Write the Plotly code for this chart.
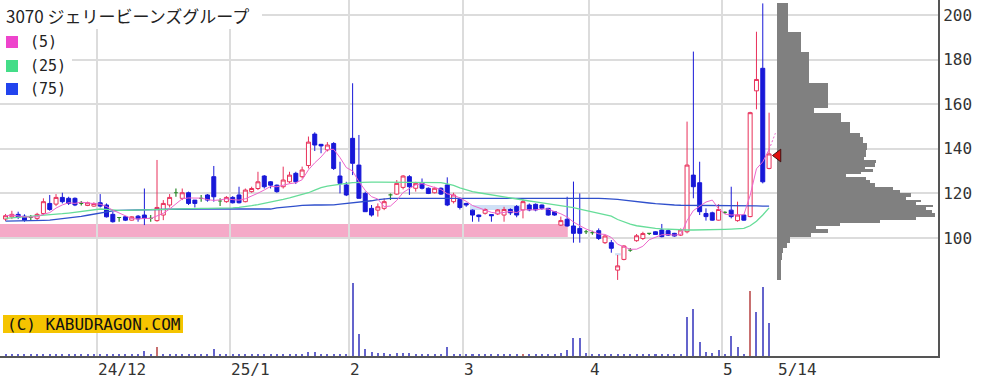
import plotly.graph_objects as go
import pandas as pd

# ---------------- data ----------------
# trading-day index, 0 = 2024-12-02 (first session of December)
day_index = list(range(-15, 107))

opens = [108.5, 109.5, 110.6, 109.8, 109.2, 108.8, 111.0, 115.5, 115.2, 118.2, 117.8, 117.8, 115.5, 114.6, 114.3,
         115.8, 114.8, 110.6, 109.2, 109.5, 108.0, 109.8, 110.3, 108.8, 107.8, 110.3, 114.8, 120.3, 117.8, 120.3,
         117.0, 117.8, 119.3, 127.5, 116.6, 116.3, 118.2, 119.3, 116.3, 120.8, 122.2, 127.8, 125.2, 123.7, 123.0,
         125.2, 129.0, 127.5, 132.5, 146.6, 142.0, 139.5, 142.4, 127.8, 123.8, 144.7, 132.7, 120.0, 113.3, 112.5,
         113.3, 119.3, 119.7, 122.7, 127.5, 122.3, 124.8, 122.3, 120.3, 122.3, 123.8, 116.3, 117.3, 115.5, 112.5,
         110.3, 111.1, 110.5, 110.8, 110.3, 112.8, 114.1, 112.6, 114.8, 115.1, 114.8, 113.3, 111.8, 105.8, 108.4,
         105.4, 104.3, 102.8, 102.4, 103.3, 97.9, 97.9, 85.6, 90.4, 94.6, 98.8, 99.8, 102.1, 102.8, 103.6,
         103.3, 102.1, 101.3, 102.8, 128.2, 124.8, 111.0, 111.3, 108.0, 111.5, 112.5, 107.8, 110.3, 109.6, 166.0,
         176.1, 131.2]
highs = [110.8, 112.2, 111.8, 110.6, 110.3, 111.3, 117.8, 119.3, 119.7, 120.3, 118.5, 118.2, 116.6, 116.3, 116.0,
         119.7, 115.5, 111.8, 109.4, 109.8, 109.8, 110.3, 122.2, 110.3, 135.0, 117.0, 119.7, 122.2, 122.2, 120.8,
         117.0, 119.3, 119.7, 132.3, 117.8, 118.8, 118.8, 123.0, 122.2, 123.0, 129.7, 128.2, 125.5, 124.0, 132.0,
         129.7, 129.7, 132.0, 145.5, 147.4, 142.2, 143.0, 143.0, 134.2, 125.2, 169.4, 146.2, 120.8, 114.8, 115.5,
         117.8, 120.0, 126.0, 128.2, 128.2, 125.2, 126.7, 122.7, 123.0, 122.7, 127.2, 120.3, 118.2, 115.8, 112.8,
         110.5, 113.3, 110.7, 113.0, 114.0, 113.3, 114.8, 117.3, 115.5, 115.5, 115.0, 113.5, 112.0, 109.6, 118.5,
         125.3, 120.0, 103.6, 103.3, 104.3, 101.3, 99.1, 92.4, 96.8, 95.5, 101.8, 102.8, 102.3, 103.0, 106.3,
         103.8, 102.3, 104.3, 152.2, 183.6, 134.2, 113.3, 111.8, 115.2, 112.0, 123.0, 116.3, 110.6, 156.6, 192.5,
         205.2, 156.2]
lows = [107.6, 108.5, 108.5, 107.3, 108.0, 108.0, 110.3, 112.2, 114.3, 115.5, 114.8, 114.3, 114.6, 114.3, 114.0,
        113.7, 109.2, 106.9, 107.3, 107.6, 107.8, 107.3, 105.8, 107.3, 107.3, 108.0, 113.7, 118.5, 117.0, 114.8,
        113.7, 116.3, 116.3, 116.3, 114.3, 115.8, 115.5, 115.5, 116.0, 120.3, 121.5, 122.2, 122.2, 120.3, 122.2,
        124.5, 124.2, 126.7, 131.2, 139.0, 138.0, 138.8, 130.5, 120.0, 118.8, 128.2, 117.8, 111.8, 109.6, 109.6,
        112.5, 117.0, 119.3, 121.8, 119.3, 120.8, 121.8, 119.7, 120.0, 119.3, 114.3, 115.5, 112.8, 114.0, 107.3,
        107.3, 110.5, 107.3, 110.3, 107.3, 110.3, 109.3, 108.8, 112.0, 112.0, 112.6, 110.0, 110.0, 105.4, 105.1,
        97.9, 97.9, 101.8, 101.5, 99.1, 97.3, 93.4, 81.2, 90.0, 93.8, 98.3, 99.1, 101.3, 101.5, 100.3,
        100.9, 100.6, 100.9, 102.1, 117.8, 110.3, 107.8, 107.8, 107.8, 110.8, 108.8, 107.3, 107.8, 109.3, 157.7,
        124.5, 130.8]
closes = [110.0, 110.6, 109.2, 108.0, 109.2, 110.6, 116.3, 112.8, 118.2, 116.3, 115.5, 114.8, 115.5, 115.8, 115.5,
          114.3, 109.5, 107.3, 109.2, 108.0, 109.5, 108.6, 108.8, 108.8, 113.7, 115.5, 118.2, 120.3, 120.3, 115.5,
          115.5, 117.8, 117.0, 118.5, 116.6, 118.2, 115.8, 115.8, 121.5, 122.2, 125.2, 123.0, 123.7, 120.8, 126.0,
          128.2, 125.2, 130.5, 143.0, 141.7, 141.3, 141.7, 131.2, 124.5, 119.3, 133.5, 117.8, 111.8, 110.3, 114.0,
          116.3, 119.3, 124.5, 127.8, 123.0, 124.5, 122.3, 120.0, 122.3, 119.7, 114.8, 119.3, 113.7, 114.8, 110.3,
          109.6, 112.8, 110.0, 112.6, 112.8, 111.3, 110.3, 116.3, 112.6, 112.6, 113.3, 110.3, 110.3, 107.8, 105.4,
          102.1, 102.1, 102.8, 102.4, 99.8, 100.9, 95.4, 87.5, 96.4, 94.6, 101.0, 102.0, 102.1, 101.6, 100.6,
          101.3, 100.9, 103.6, 132.7, 123.0, 111.8, 109.6, 108.0, 112.8, 111.5, 109.6, 110.3, 108.0, 156.2, 171.1,
          125.2, 137.7]
volumes = [12, 12, 12, 12, 12, 12, 12, 12, 12, 12, 12, 12, 12, 12, 12,
           12, 12, 12, 12, 12, 12, 12, 50, 12, 90, 20, 12, 12, 12, 12,
           12, 12, 12, 70, 12, 12, 12, 12, 12, 12, 12, 12, 12, 12, 20,
           12, 12, 12, 45, 45, 12, 12, 12, 20, 12, 727, 220, 70, 40, 30,
           30, 12, 30, 30, 30, 12, 12, 12, 12, 12, 90, 12, 12, 12, 12,
           12, 12, 12, 12, 12, 12, 12, 15, 12, 12, 12, 12, 12, 30, 60,
           183, 183, 30, 12, 25, 25, 12, 25, 12, 12, 12, 12, 12, 12, 12,
           12, 12, 12, 387, 467, 137, 43, 30, 60, 12, 200, 87, 12, 653, 437,
           687, 327]
vol_red_days = [9, 67, 103]

ma25 = [108.8, 109.0, 109.2, 109.4, 109.6, 109.8, 110.0,
        110.3, 110.6, 110.9, 111.2, 111.5, 111.8, 112.2, 112.7,
        113.0, 112.8, 112.5, 112.4, 112.4, 112.5, 112.6, 112.7, 112.8, 112.9, 113.0,
        113.1, 113.2, 113.3, 113.3, 113.3, 113.3, 113.3, 113.3, 113.3, 113.4, 113.5,
        113.7, 114.0, 114.5, 115.0, 115.5, 116.0, 116.6, 117.3, 118.0, 118.7,
        119.3, 120.3, 121.5, 122.6, 123.3, 123.8,
        124.1, 124.5, 124.8, 125.0, 125.1, 125.1, 125.1, 125.1, 125.1,
        125.1, 125.1, 125.1, 125.0, 125.0, 125.0, 125.0, 124.8, 124.3, 123.6,
        122.5, 121.5, 120.8, 120.3, 119.8, 119.3, 118.8, 118.4, 118.0, 117.6, 117.1, 116.6, 116.2, 115.8, 115.4, 115.0,
        114.7, 114.1, 113.6, 113.0, 112.4, 111.8, 111.2, 110.5, 109.8,
        108.3, 107.2, 106.2, 105.5, 105.0, 104.6, 104.3, 104.1, 103.9,
        103.8, 103.7, 103.6, 103.6, 103.6, 103.6, 103.7, 103.8, 103.9, 104.0, 104.1, 104.3, 105.5, 107.5, 110.3, 113.5]
ma75 = [107.6, 107.6, 107.7, 107.7, 107.8, 107.8, 107.9,
        108.0, 108.3, 108.6, 108.9, 109.3, 109.7, 110.2, 110.7,
        111.2, 111.8, 112.2, 112.4, 112.5, 112.5, 112.6, 112.6, 112.7, 112.7, 112.8,
        112.9, 112.9, 113.0, 113.0, 113.0, 113.0, 113.0, 113.0, 113.0, 113.0, 113.0,
        112.9, 112.9, 112.9, 112.9, 112.9, 113.0, 113.5, 113.7, 113.8, 114.3,
        114.6, 114.8, 114.8, 114.8, 114.8, 114.9,
        115.2, 115.5, 115.6, 115.8, 116.2, 116.7, 117.2, 117.6, 117.8,
        117.8, 117.8, 117.8, 117.8, 117.9, 117.9, 118.0, 118.0, 118.0, 118.0,
        118.1, 118.1, 118.1, 118.1, 118.1, 118.1, 118.1, 118.1, 118.1, 118.1, 118.1, 118.1, 118.1, 118.1, 118.1, 118.1,
        118.0, 118.0, 117.9, 117.9, 117.8, 117.8, 117.8, 117.7, 117.6,
        117.3, 117.0, 116.6, 116.3, 116.0, 115.7, 115.4, 115.1, 114.9,
        114.8, 114.7, 114.7, 114.6, 114.6, 114.5, 114.5, 114.5, 114.5, 114.5, 114.5, 114.4, 114.4, 114.4, 114.3, 114.3]
ma5_next = 147.0  # provisional next value of the 5-day line (dashed)

# price-by-volume profile (bin edges and volume per bin)
profile_edges = [81.2, 90.1, 93.1, 95.4, 97.6, 100.6, 102.1, 103.9, 105.4, 106.9, 108.1, 109.6, 111.0, 112.5,
                 114.0, 114.8, 116.3, 117.0, 118.5, 120.0, 121.5, 123.0, 124.5, 126.0, 127.5, 128.7, 129.7,
                 130.8, 132.0, 133.5, 135.0, 136.5, 139.5, 142.4, 145.4, 146.9, 152.2, 156.2, 158.2, 169.4,
                 183.6, 192.5, 205.2]
profile_volume = [37, 47, 60, 95, 130, 340, 510, 390, 630, 1030, 1390, 1580, 1550, 1490, 1560, 1390, 1440,
                  1290, 1340, 1230, 1160, 980, 930, 890, 690, 840, 960, 880, 980, 990, 870, 890, 900, 860,
                  830, 730, 640, 370, 510, 320, 237, 110]
last_price_mark = 137.0

month_starts = [-0.5, 20.5, 39.5, 57.5, 77.5, 98.5]
month_labels = ["24/12", "25/1", "2", "3", "4", "5"]
last_label = "5/14"
price_ticks = [100, 120, 140, 160, 180, 200]

band_low, band_high, band_end = 99.6, 106.3, 74.1
gap_zones = [(58.6, 67.0, 112.6, 114.8), (81.6, 82.5, 92.2, 93.2)]

title_text = "3070 ジェリービーンズグループ"
legend_items = [("(5)", "#ee44cc"), ("(25)", "#44dd88"), ("(75)", "#2244ee")]
watermark = "(C) KABUDRAGON.COM"

# ---------------- layout geometry ----------------
W, H = 990, 384
PW, PH = 938, 356          # plot area size (px)
X_RANGE = [-15.88, 132.77]
Y_RANGE = [47.09, 206.73]
MONO = "DejaVu Sans Mono"

def px(xp):
    return xp / PW

def py(yp):
    return (PH - yp) / PH

UP = "#e8305a"
DOWN = "#1818d8"
DOJI = "#2a8a2a"

fig = go.Figure()

# moving averages
ma5 = pd.Series(closes).rolling(5, min_periods=1).mean().round(2).tolist()
fig.add_trace(go.Scatter(x=day_index, y=ma75, mode="lines", line=dict(color="#3050cc", width=1.3)))
fig.add_trace(go.Scatter(x=day_index, y=ma25, mode="lines", line=dict(color="#66dd99", width=1.3)))
fig.add_trace(go.Scatter(x=day_index, y=ma5, mode="lines", line=dict(color="#ee66cc", width=1)))
fig.add_trace(go.Scatter(x=[day_index[-1], day_index[-1] + 1], y=[ma5[-1], ma5_next], mode="lines",
                         line=dict(color="#ee66cc", width=1, dash="2px,2px")))

# candles
nd = [k for k in range(len(day_index)) if opens[k] != closes[k]]
dj = [k for k in range(len(day_index)) if opens[k] == closes[k]]
fig.add_trace(go.Candlestick(
    x=[day_index[k] for k in nd], open=[opens[k] for k in nd], high=[highs[k] for k in nd],
    low=[lows[k] for k in nd], close=[closes[k] for k in nd],
    increasing=dict(line=dict(color=UP, width=1), fillcolor="white"),
    decreasing=dict(line=dict(color=DOWN, width=1), fillcolor=DOWN),
    whiskerwidth=0, hoverinfo="skip"))
fig.add_trace(go.Candlestick(
    x=[day_index[k] for k in dj], open=[opens[k] for k in dj], high=[highs[k] for k in dj],
    low=[lows[k] for k in dj], close=[closes[k] for k in dj],
    increasing=dict(line=dict(color=DOJI, width=1.2), fillcolor=DOJI),
    decreasing=dict(line=dict(color=DOJI, width=1.2), fillcolor=DOJI),
    whiskerwidth=0, hoverinfo="skip"))

# volume
vol_colors = ["#c87070" if d in vol_red_days else "#6464cc" for d in day_index]
fig.add_trace(go.Bar(x=day_index, y=volumes, yaxis="y3", width=0.32,
                     marker=dict(color=vol_colors, line=dict(width=0))))

# price-by-volume profile
centers = [(profile_edges[k] + profile_edges[k + 1]) / 2 for k in range(len(profile_volume))]
heights = [profile_edges[k + 1] - profile_edges[k] for k in range(len(profile_volume))]
fig.add_trace(go.Bar(y=centers, x=profile_volume, width=heights, orientation="h",
                     xaxis="x2", yaxis="y", marker=dict(color="#808080", line=dict(width=0))))
fig.add_trace(go.Scatter(x=[10], y=[last_price_mark], xaxis="x2", yaxis="y", mode="markers",
                         cliponaxis=False,
                         marker=dict(symbol="triangle-left", size=11, color="#e01010",
                                     line=dict(color="#401010", width=1))))

shapes = []
shapes.append(dict(type="rect", xref="x", yref="y", x0=X_RANGE[0], x1=band_end, y0=band_low, y1=band_high,
                   fillcolor="#f5aac8", line=dict(width=0), layer="below"))
for (a, b, lo, hi) in gap_zones:
    shapes.append(dict(type="rect", xref="x", yref="y", x0=a, x1=b, y0=lo, y1=hi,
                       fillcolor="#cfe0f6", line=dict(width=0), layer="below"))
# white boxes behind title / legend
shapes.append(dict(type="rect", xref="paper", yref="paper", x0=0, x1=px(262), y0=py(29), y1=1,
                   fillcolor="white", line=dict(width=0), layer="above"))
shapes.append(dict(type="rect", xref="paper", yref="paper", x0=0, x1=px(72), y0=py(100), y1=py(29),
                   fillcolor="white", line=dict(width=0), layer="above"))
legend_y = [42, 66, 89]
for (lab, col), yc in zip(legend_items, legend_y):
    shapes.append(dict(type="rect", xref="paper", yref="paper", x0=px(6), x1=px(18), y0=py(yc + 6),
                       y1=py(yc - 6), fillcolor=col, line=dict(width=0), layer="above"))
shapes.append(dict(type="rect", xref="paper", yref="paper", x0=px(3), x1=px(183), y0=py(333), y1=py(315),
                   fillcolor="#f5c400", line=dict(width=0), layer="above"))

ann = []
ann.append(dict(text=title_text, xref="paper", yref="paper", x=px(4), y=py(15), xanchor="left",
                yanchor="middle", showarrow=False, font=dict(family="Noto Sans CJK JP", size=17, color="#222")))
for (lab, col), yc in zip(legend_items, legend_y):
    ann.append(dict(text=lab, xref="paper", yref="paper", x=px(28), y=py(yc), xanchor="left",
                    yanchor="middle", showarrow=False, font=dict(family=MONO, size=15, color="#222")))
ann.append(dict(text=watermark, xref="paper", yref="paper", x=px(5), y=py(324), xanchor="left",
                yanchor="middle", showarrow=False, font=dict(family=MONO, size=16, color="#111")))
for xv, lab in zip(month_starts, month_labels):
    ann.append(dict(text=lab, xref="x", yref="paper", x=xv, y=0, xanchor="left", yanchor="top",
                    xshift=-1, yshift=-2, showarrow=False, font=dict(family=MONO, size=16, color="#333")))
ann.append(dict(text=last_label, xref="x", yref="paper", x=day_index[-1], y=0, xanchor="left", yanchor="top",
                xshift=7, yshift=-2, showarrow=False, font=dict(family=MONO, size=16, color="#333")))

fig.update_layout(
    width=W, height=H, margin=dict(l=0, r=W - PW, t=0, b=H - PH),
    paper_bgcolor="white", plot_bgcolor="white", showlegend=False,
    boxgap=0.1, boxgroupgap=0.3, bargap=0,
    xaxis=dict(range=X_RANGE, tickvals=month_starts, showticklabels=False, ticks="",
               showgrid=True, gridcolor="#dcdcdc", gridwidth=1.5, zeroline=False,
               showline=True, linecolor="#555", linewidth=2, rangeslider=dict(visible=False)),
    xaxis2=dict(domain=[px(777), 1], range=[0, 1610], anchor="y", visible=False),
    yaxis=dict(range=Y_RANGE, side="right", tickvals=price_ticks, ticks="inside", ticklen=5,
               tickcolor="#444", showgrid=True, gridcolor="#dcdcdc", gridwidth=1.5, zeroline=False,
               showline=True, linecolor="#555", linewidth=2,
               tickfont=dict(family=MONO, size=16, color="#333")),
    yaxis3=dict(overlaying="y", range=[0, 3560], visible=False, anchor="x"),
    shapes=shapes, annotations=ann,
)

fig.write_html("out.html")
